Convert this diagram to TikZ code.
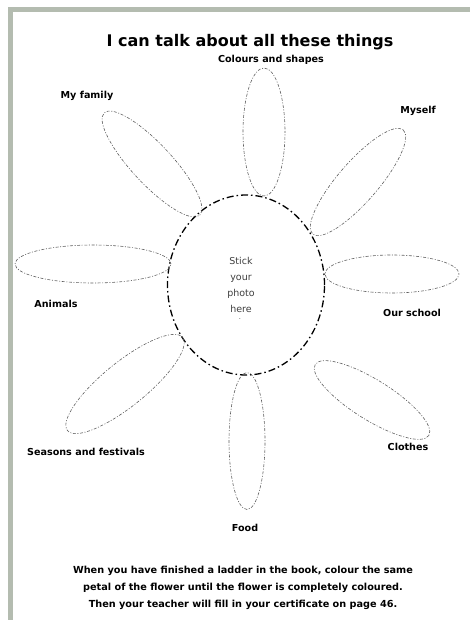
\documentclass[tikz,border=0pt]{standalone}
\usepackage{fontspec}
\setmainfont{DejaVu Sans}
\usetikzlibrary{shapes.geometric}
\definecolor{framegray}{HTML}{B4BCB0}
\definecolor{petalgray}{HTML}{606060}
\tikzset{
  petal/.style={ellipse, draw=petalgray, line width=0.6pt, inner sep=0pt,
    dash pattern=on 1pt off 1.6pt on 3pt off 1.6pt},
  centre/.style={ellipse, draw=black, line width=1.3pt, inner sep=0pt,
    dash pattern=on 7pt off 3pt on 1.5pt off 3pt},
  lbl/.style={font=\fontsize{9.6}{11}\selectfont\bfseries, inner sep=1pt},
}
\begin{document}
\begin{tikzpicture}[x=1pt,y=-1pt]
\useasboundingbox (0,0) rectangle (470,620);
\fill[white] (0,0) rectangle (470,620);
% frame bands
\fill[framegray] (8,7.5) rectangle (470,12.5);
\fill[framegray] (8,7.5) rectangle (13,620);
% title
\node[font=\fontsize{16}{18}\selectfont\bfseries] (title) at (250,42) {I can talk about all these things};
% centre
\node[centre, minimum width=157pt, minimum height=180pt] (photo) at (246,285) {};
\node[align=center, text=black!75, font=\fontsize{9.5}{16}\selectfont] (stick) at (241,285) {Stick\\your\\photo\\here};
\node[text=black!50, font=\fontsize{8}{8}\selectfont, inner sep=0pt] (dot) at (240,319) {.};
% petals
\node[petal, minimum width=42pt, minimum height=128pt] (p1) at (264,132) {};
\node[petal, minimum width=36pt, minimum height=137pt] (p5) at (247,441) {};
\node[petal, minimum width=156pt, minimum height=38pt] (p7) at (93,264) {};
\node[petal, minimum width=134pt, minimum height=38pt] (p3) at (392,274) {};
\node[petal, minimum width=140pt, minimum height=40pt, rotate=-47] (p8) at (152,164) {};
\node[petal, minimum width=138pt, minimum height=40pt, rotate=49] (p2) at (358,182) {};
\node[petal, minimum width=148pt, minimum height=44pt, rotate=39] (p6) at (125,384) {};
\node[petal, minimum width=134pt, minimum height=40pt, rotate=-32] (p4) at (372,400) {};
% labels
\node[lbl] (l1) at (271,60) {Colours and shapes};
\node[lbl] (l8) at (87,96) {My family};
\node[lbl] (l2) at (418,111) {Myself};
\node[lbl] (l7) at (56,304) {Animals};
\node[lbl] (l3) at (412,313) {Our school};
\node[lbl] (l6) at (86,452) {Seasons and festivals};
\node[lbl] (l4) at (408,447) {Clothes};
\node[lbl] (l5) at (245,528) {Food};
% bottom text
\node[align=center, font=\fontsize{9.7}{17}\selectfont\bfseries] (note) at (243,588) {When you have finished a ladder in the book, colour the same\\petal of the flower until the flower is completely coloured.\\Then your teacher will fill in your certificate on page 46.};
\end{tikzpicture}
\end{document}
